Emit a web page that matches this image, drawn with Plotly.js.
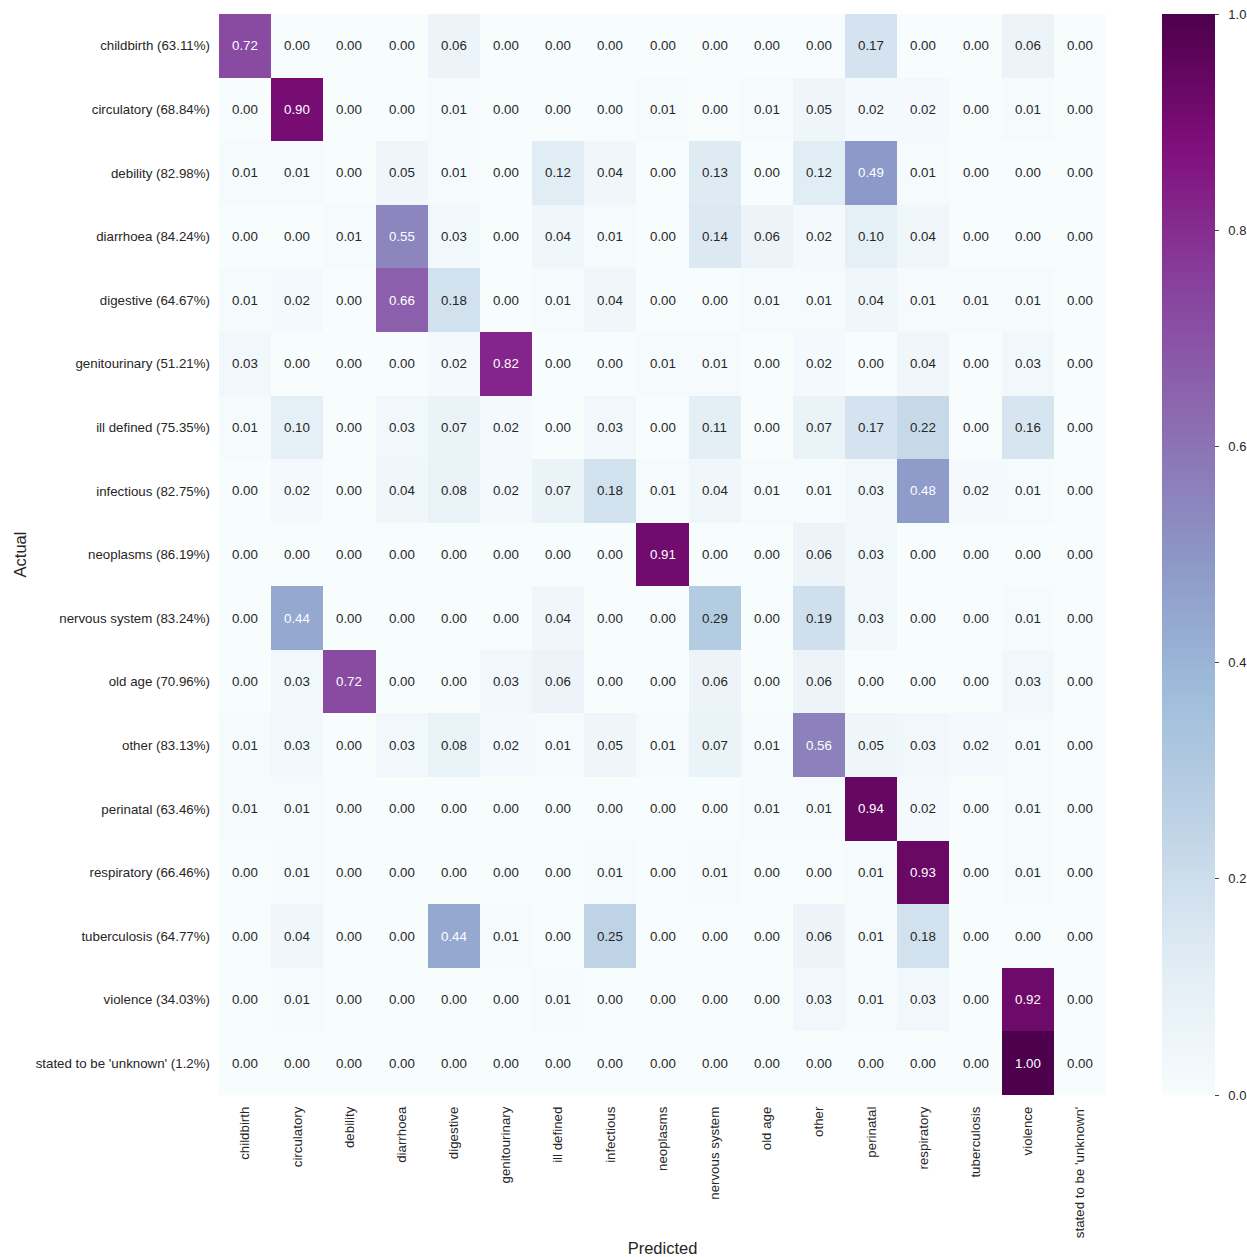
<!DOCTYPE html>
<html>
<head>
<meta charset="utf-8">
<script src="https://cdn.plot.ly/plotly-3.0.1.min.js"></script>
<style>html,body{margin:0;padding:0;background:#fff;}#chart{width:1247px;height:1257px;}</style>
</head>
<body>
<div id="chart"></div>
<script>
const predicted = ["childbirth","circulatory","debility","diarrhoea","digestive","genitourinary","ill defined","infectious","neoplasms","nervous system","old age","other","perinatal","respiratory","tuberculosis","violence","stated to be 'unknown'"];
const actual = ["childbirth (63.11%)","circulatory (68.84%)","debility (82.98%)","diarrhoea (84.24%)","digestive (64.67%)","genitourinary (51.21%)","ill defined (75.35%)","infectious (82.75%)","neoplasms (86.19%)","nervous system (83.24%)","old age (70.96%)","other (83.13%)","perinatal (63.46%)","respiratory (66.46%)","tuberculosis (64.77%)","violence (34.03%)","stated to be 'unknown' (1.2%)"];

const rowChildbirth    = [0.72,0.00,0.00,0.00,0.06,0.00,0.00,0.00,0.00,0.00,0.00,0.00,0.17,0.00,0.00,0.06,0.00];
const rowCirculatory   = [0.00,0.90,0.00,0.00,0.01,0.00,0.00,0.00,0.01,0.00,0.01,0.05,0.02,0.02,0.00,0.01,0.00];
const rowDebility      = [0.01,0.01,0.00,0.05,0.01,0.00,0.12,0.04,0.00,0.13,0.00,0.12,0.49,0.01,0.00,0.00,0.00];
const rowDiarrhoea     = [0.00,0.00,0.01,0.55,0.03,0.00,0.04,0.01,0.00,0.14,0.06,0.02,0.10,0.04,0.00,0.00,0.00];
const rowDigestive     = [0.01,0.02,0.00,0.66,0.18,0.00,0.01,0.04,0.00,0.00,0.01,0.01,0.04,0.01,0.01,0.01,0.00];
const rowGenitourinary = [0.03,0.00,0.00,0.00,0.02,0.82,0.00,0.00,0.01,0.01,0.00,0.02,0.00,0.04,0.00,0.03,0.00];
const rowIllDefined    = [0.01,0.10,0.00,0.03,0.07,0.02,0.00,0.03,0.00,0.11,0.00,0.07,0.17,0.22,0.00,0.16,0.00];
const rowInfectious    = [0.00,0.02,0.00,0.04,0.08,0.02,0.07,0.18,0.01,0.04,0.01,0.01,0.03,0.48,0.02,0.01,0.00];
const rowNeoplasms     = [0.00,0.00,0.00,0.00,0.00,0.00,0.00,0.00,0.91,0.00,0.00,0.06,0.03,0.00,0.00,0.00,0.00];
const rowNervous       = [0.00,0.44,0.00,0.00,0.00,0.00,0.04,0.00,0.00,0.29,0.00,0.19,0.03,0.00,0.00,0.01,0.00];
const rowOldAge        = [0.00,0.03,0.72,0.00,0.00,0.03,0.06,0.00,0.00,0.06,0.00,0.06,0.00,0.00,0.00,0.03,0.00];
const rowOther         = [0.01,0.03,0.00,0.03,0.08,0.02,0.01,0.05,0.01,0.07,0.01,0.56,0.05,0.03,0.02,0.01,0.00];
const rowPerinatal     = [0.01,0.01,0.00,0.00,0.00,0.00,0.00,0.00,0.00,0.00,0.01,0.01,0.94,0.02,0.00,0.01,0.00];
const rowRespiratory   = [0.00,0.01,0.00,0.00,0.00,0.00,0.00,0.01,0.00,0.01,0.00,0.00,0.01,0.93,0.00,0.01,0.00];
const rowTuberculosis  = [0.00,0.04,0.00,0.00,0.44,0.01,0.00,0.25,0.00,0.00,0.00,0.06,0.01,0.18,0.00,0.00,0.00];
const rowViolence      = [0.00,0.01,0.00,0.00,0.00,0.00,0.01,0.00,0.00,0.00,0.00,0.03,0.01,0.03,0.00,0.92,0.00];
const rowUnknown       = [0.00,0.00,0.00,0.00,0.00,0.00,0.00,0.00,0.00,0.00,0.00,0.00,0.00,0.00,0.00,1.00,0.00];

const z = [rowChildbirth,rowCirculatory,rowDebility,rowDiarrhoea,rowDigestive,rowGenitourinary,rowIllDefined,rowInfectious,rowNeoplasms,rowNervous,rowOldAge,rowOther,rowPerinatal,rowRespiratory,rowTuberculosis,rowViolence,rowUnknown];

const colorbarTicks = [0, 0.2, 0.4, 0.6, 0.8, 1.0];

const bupu = [
  [0.0,'#f7fcfd'],[0.125,'#e0ecf4'],[0.25,'#bfd3e6'],[0.375,'#9ebcda'],
  [0.5,'#8c96c6'],[0.625,'#8c6bb1'],[0.75,'#88419d'],[0.875,'#810f7c'],[1.0,'#4d004b']
];

const FONT = 'Liberation Sans, Arial, sans-serif';
const annotations = [];
for (let i = 0; i < actual.length; i++) {
  for (let j = 0; j < predicted.length; j++) {
    const v = z[i][j];
    annotations.push({
      x: predicted[j], y: actual[i], xref: 'x', yref: 'y',
      text: v.toFixed(2), showarrow: false,
      font: {family: FONT, size: 13.3, color: v >= 0.4 ? '#ffffff' : '#262626'}
    });
  }
}

const trace = {
  type: 'heatmap',
  x: predicted, y: actual, z: z,
  zmin: 0, zmax: 1,
  colorscale: bupu,
  hoverinfo: 'x+y+z',
  colorbar: {
    x: 1.063, xanchor: 'left', xref: 'paper', xpad: 0, ypad: 0,
    y: 0.5, yanchor: 'middle', len: 1, lenmode: 'fraction',
    thickness: 53, thicknessmode: 'pixels',
    outlinewidth: 0, ticks: 'outside', ticklen: 4, tickwidth: 1, tickcolor: '#444',
    tickvals: colorbarTicks, ticktext: colorbarTicks.map(v => '\u00a0\u00a0' + v.toFixed(1)),
    tickfont: {family: FONT, size: 13, color: '#262626'}
  }
};

const layout = {
  width: 1247, height: 1257,
  margin: {l: 219, r: 141, t: 14, b: 162, pad: 0, autoexpand: false},
  paper_bgcolor: '#ffffff', plot_bgcolor: '#ffffff',
  font: {family: FONT, size: 13, color: '#262626'},
  xaxis: {
    type: 'category', tickangle: -90, ticks: '', showgrid: false, zeroline: false, showline: false,
    tickfont: {family: FONT, size: 13.3, color: '#262626'}, ticklabelstandoff: 8,
    title: {text: 'Predicted', font: {family: FONT, size: 16.5, color: '#262626'}, standoff: 6},
    automargin: false
  },
  yaxis: {
    type: 'category', autorange: 'reversed', ticks: '', showgrid: false, zeroline: false, showline: false,
    tickfont: {family: FONT, size: 13.3, color: '#262626'}, ticklabelstandoff: 8,
    title: {text: 'Actual', font: {family: FONT, size: 16.5, color: '#262626'}, standoff: 4},
    automargin: false
  },
  annotations: annotations
};

Plotly.newPlot('chart', [trace], layout, {displayModeBar: false, staticPlot: true});
</script>
</body>
</html>
